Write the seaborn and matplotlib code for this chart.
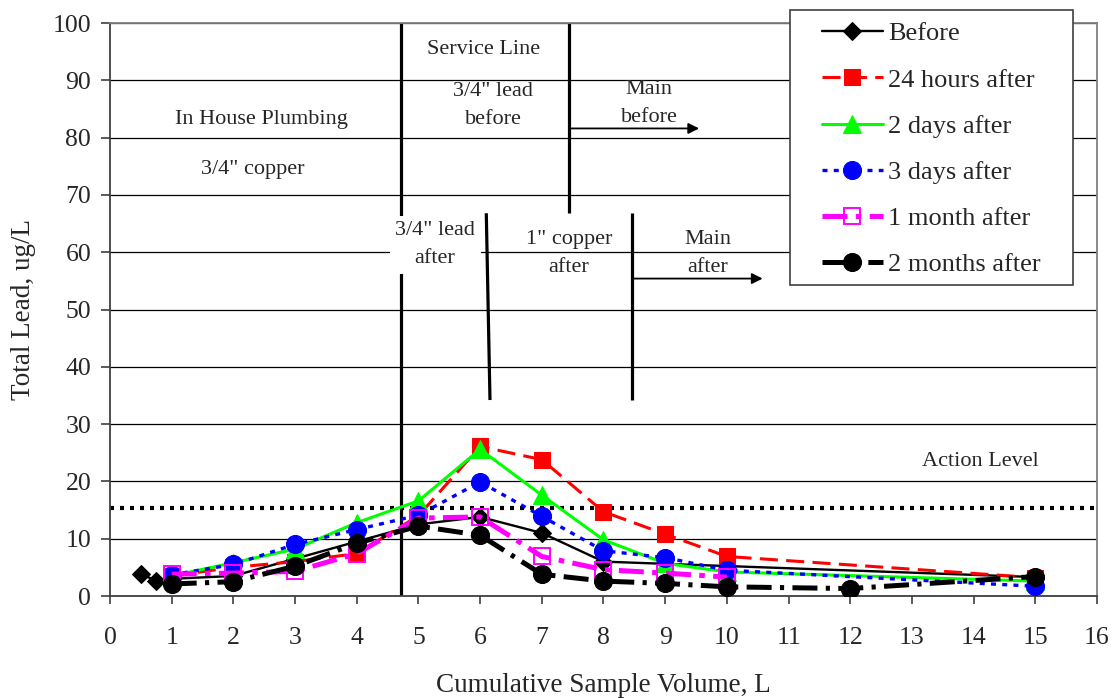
import matplotlib
matplotlib.use("Agg")
import matplotlib.pyplot as plt
from matplotlib.patches import Rectangle
import seaborn as sns
import pandas as pd

# ---------------- data ----------------
x_before = [0.5, 0.75, 1, 2, 3, 4, 5, 6, 7, 8, 15]
y_before = [3.8, 2.7, 3.0, 3.5, 6.5, 9.5, 12.5, 13.8, 11.0, 6.0, 3.3]

x_24h = [1, 2, 3, 4, 5, 6, 7, 8, 9, 10, 15]
y_24h = [3.5, 5.0, 6.0, 7.4, 14.0, 26.1, 23.8, 14.7, 10.8, 6.9, 3.2]

x_2d = [1, 2, 3, 4, 5, 6, 7, 8, 9, 10, 15]
y_2d = [3.5, 5.8, 8.2, 12.8, 16.6, 25.6, 17.6, 9.8, 5.7, 4.2, 2.6]

x_3d = [1, 2, 3, 4, 5, 6, 7, 8, 9, 10, 15]
y_3d = [3.7, 5.5, 9.0, 11.6, 14.1, 19.9, 13.9, 7.9, 6.7, 4.5, 1.7]

x_1m = [1, 2, 3, 4, 5, 6, 7, 8, 9, 10]
y_1m = [3.8, 4.0, 4.3, 7.4, 13.6, 13.8, 6.9, 4.6, 4.0, 3.3]

x_2m = [1, 2, 3, 4, 5, 6, 7, 8, 9, 10, 12, 15]
y_2m = [2.1, 2.5, 5.2, 9.2, 12.2, 10.6, 3.8, 2.6, 2.2, 1.6, 1.3, 3.4]

series_labels = ["Before", "24 hours after", "2 days after", "3 days after",
                 "1 month after", "2 months after"]
action_level = 15.4
x_ticks = list(range(0, 17))
y_ticks = list(range(0, 101, 10))

# ---------------- style ----------------
sns.set_style("white")
plt.rcParams["font.family"] = ["Liberation Serif", "DejaVu Serif"]
plt.rcParams["lines.scale_dashes"] = False

fig = plt.figure(figsize=(11.15, 6.98), dpi=100)
ax = fig.add_axes([0.09865, 0.14613, 0.8852, 0.8209])

styles = [
    dict(color="black", marker="D", markersize=9, linewidth=1.7, linestyle="-",
         markerfacecolor="black", markeredgecolor="black"),
    dict(color="#FF0000", marker="s", markersize=12, linewidth=2.2, linestyle=(0, (13, 6)),
         markerfacecolor="#FF0000", markeredgecolor="#FF0000"),
    dict(color="#00FF00", marker="^", markersize=13, linewidth=2.2, linestyle="-",
         markerfacecolor="#00FF00", markeredgecolor="#00FF00"),
    dict(color="#0000FF", marker="o", markersize=13, linewidth=2.4, linestyle=(0, (3.6, 4.5)),
         markerfacecolor="#0000FF", markeredgecolor="#0000FF"),
    dict(color="#FF00FF", marker="s", markersize=12, linewidth=3.6, linestyle=(0, (18, 6, 4, 6)),
         markerfacecolor="none", markeredgecolor="#FF00FF", markeredgewidth=1.4),
    dict(color="black", marker="o", markersize=13, linewidth=3.6, linestyle=(0, (18, 6, 3, 6)),
         markerfacecolor="black", markeredgecolor="black"),
]
xs = [x_before, x_24h, x_2d, x_3d, x_1m, x_2m]
ys = [y_before, y_24h, y_2d, y_3d, y_1m, y_2m]

handles = []
for i, (xv, yv, lab, st) in enumerate(zip(xs, ys, series_labels, styles)):
    df = pd.DataFrame({"x": xv, "y": yv})
    sns.lineplot(data=df, x="x", y="y", ax=ax, estimator=None, sort=False,
                 label=lab, zorder=3 + i, **st)
    handles.append(ax.get_lines()[-1])
if ax.get_legend() is not None:
    ax.get_legend().remove()

# action level
ax.axhline(action_level, color="black", linewidth=3, linestyle=(0, (2.9, 4.3)),
           dash_capstyle="butt", zorder=2)

# section divider lines
div_x_full = 4.72
ax.plot([div_x_full, div_x_full], [0, 100], color="black", lw=2.3, zorder=2.5, solid_capstyle="butt")
ax.plot([7.44, 7.44], [66.9, 100], color="black", lw=2.3, zorder=2.5, solid_capstyle="butt")
ax.plot([6.10, 6.16], [66.8, 34.2], color="black", lw=2.3, zorder=2.5, solid_capstyle="butt")
ax.plot([8.46, 8.46], [66.8, 34.2], color="black", lw=2.3, zorder=2.5, solid_capstyle="butt")

# arrows
ax.annotate("", xy=(9.55, 81.6), xytext=(7.44, 81.6),
            arrowprops=dict(arrowstyle="-|>", color="black", lw=1.3, mutation_scale=16,
                            shrinkA=0, shrinkB=0), zorder=4)
ax.annotate("", xy=(10.58, 55.4), xytext=(8.46, 55.4),
            arrowprops=dict(arrowstyle="-|>", color="black", lw=1.3, mutation_scale=16,
                            shrinkA=0, shrinkB=0), zorder=4)

# annotation texts
tfs = 16
ls = 1.65
ax.text(2.45, 83.2, "In House Plumbing", ha="center", va="center", fontsize=tfs)
ax.text(2.31, 74.5, "3/4\" copper", ha="center", va="center", fontsize=tfs)
ax.text(6.05, 95.4, "Service Line", ha="center", va="center", fontsize=tfs)
ax.text(6.21, 85.6, "3/4\" lead\nbefore", ha="center", va="center", fontsize=tfs, linespacing=ls)
ax.text(8.74, 85.9, "Main\nbefore", ha="center", va="center", fontsize=tfs, linespacing=ls)
ax.text(5.27, 61.3, "3/4\" lead\nafter", ha="center", va="center", fontsize=tfs, linespacing=ls,
        bbox=dict(facecolor="white", edgecolor="none", pad=4), zorder=6)
ax.text(7.44, 59.8, "1\" copper\nafter", ha="center", va="center", fontsize=tfs, linespacing=ls)
ax.text(9.69, 59.8, "Main\nafter", ha="center", va="center", fontsize=tfs, linespacing=ls)
ax.text(14.11, 23.4, "Action Level", ha="center", va="center", fontsize=tfs)

# axes
ax.set_xlim(0, 16)
ax.set_ylim(0, 100)
ax.set_xticks(x_ticks)
ax.set_yticks(y_ticks)
ax.yaxis.grid(True, color="black", linewidth=0.9)
ax.xaxis.grid(False)
ax.set_axisbelow(True)
for side in ["left", "bottom"]:
    ax.spines[side].set_color("#404040")
    ax.spines[side].set_linewidth(1.3)
for side in ["top", "right"]:
    ax.spines[side].set_color("#808080")
    ax.spines[side].set_linewidth(1.3)
ax.tick_params(axis="x", direction="out", length=6, width=1.2, color="#404040",
               labelsize=18.5, pad=16, bottom=True)
ax.tick_params(axis="y", direction="out", length=6.5, width=1.2, color="#404040",
               labelsize=18.5, pad=7, left=True)
ax.set_xlabel("Cumulative Sample Volume, L", fontsize=19.5)
ax.set_ylabel("Total Lead, ug/L", fontsize=19.5)
ax.xaxis.set_label_coords(0.5, -0.134)
ax.yaxis.set_label_coords(-0.075, 0.5)

# legend with manual frame
rect = Rectangle((790 / 1115, 1 - 285 / 698), 283 / 1115, 275 / 698,
                 transform=fig.transFigure, facecolor="white", edgecolor="#404040",
                 linewidth=1.2, zorder=4)
fig.add_artist(rect)
leg = fig.legend(handles, series_labels, loc="upper left",
                 bbox_to_anchor=(822 / 1115, 1 - 22 / 698), bbox_transform=fig.transFigure,
                 frameon=False, borderpad=0, borderaxespad=0, fontsize=19,
                 handlelength=2.3, handletextpad=0.2, labelspacing=0.86, numpoints=1)
leg.set_zorder(5)

fig.savefig("out.png", dpi=100)
